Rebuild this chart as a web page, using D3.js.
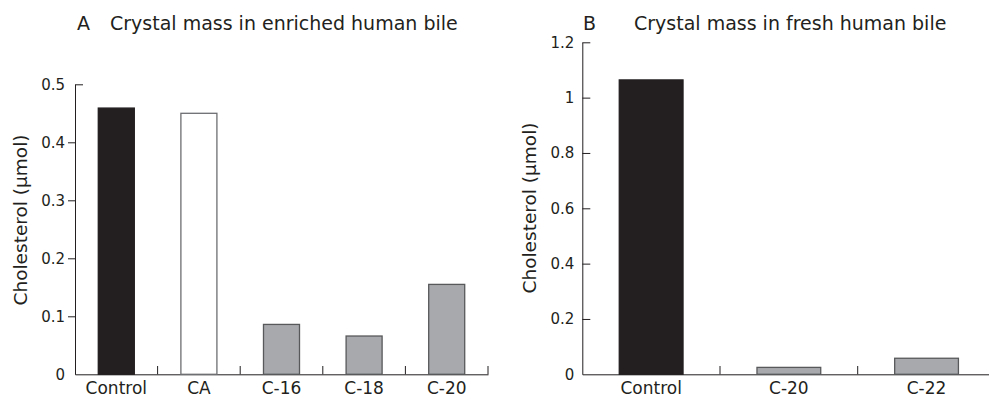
<!DOCTYPE html>
<html>
<head>
<meta charset="utf-8">
<script src="https://cdn.jsdelivr.net/npm/d3@7"></script>
<style>
  body { margin: 0; background: #fff; }
  svg { display: block; font-family: "DejaVu Sans", sans-serif; }
  .axis path, .axis line { stroke: #231f20; stroke-width: 1; }
  .axis text { fill: #231f20; font-family: "DejaVu Sans", sans-serif; }
</style>
</head>
<body>
<div id="chart"></div>
<script>
// panel A - enriched human bile
var catsA = ["Control", "CA", "C-16", "C-18", "C-20"];
var valsA = [0.459, 0.450, 0.086, 0.066, 0.155];
var ticksA = [0, 0.1, 0.2, 0.3, 0.4, 0.5];

// panel B - fresh human bile
var catsB = ["Control", "C-20", "C-22"];
var valsB = [1.064, 0.025, 0.058];
var ticksB = [0, 0.2, 0.4, 0.6, 0.8, 1, 1.2];

var fills = { "Control": "#231f20", "CA": "#ffffff" };
var strokes = { "Control": "#231f20", "CA": "#6d6e71" };

var svg = d3.select("#chart").append("svg")
    .attr("width", 989)
    .attr("height", 399);

function panel(cfg) {
  var x = d3.scaleBand().domain(cfg.cats).range([cfg.x0, cfg.x1]).padding(0);
  var y = d3.scaleLinear().domain([0, cfg.ymax]).range([374.3, cfg.ytop]);
  var g = svg.append("g");

  // y axis
  var yAxis = d3.axisLeft(y).tickValues(cfg.ticks).tickSizeOuter(0)
      .tickFormat(function(d) { return String(d); });
  if (cfg.tickIn) yAxis.tickSizeInner(-8).tickPadding(8);
  else yAxis.tickSizeInner(7).tickPadding(3);
  var ya = g.append("g")
      .attr("class", "axis")
      .attr("transform", "translate(" + cfg.x0 + ",0)")
      .call(yAxis);
  ya.selectAll("text").style("font-size", "15px");
  ya.selectAll(".tick").filter(function(d) { return d === 0; }).select("line").remove();
  ya.selectAll(".tick").filter(function(d) { return d === cfg.ymax; }).select("line").attr("x2", 8);

  // x axis
  var xAxis = d3.axisBottom(x).tickSize(0).tickSizeOuter(0);
  var xa = g.append("g")
      .attr("class", "axis")
      .attr("transform", "translate(0,374.3)")
      .call(xAxis);
  xa.selectAll("text").attr("y", 19.5).attr("dy", 0).style("font-size", "17px");

  // separator ticks between categories
  g.selectAll(".sep")
      .data(cfg.cats)
      .enter().append("line")
      .attr("class", "sep")
      .attr("x1", function(d) { return x(d) + x.bandwidth(); })
      .attr("x2", function(d) { return x(d) + x.bandwidth(); })
      .attr("y1", 374.3)
      .attr("y2", 366)
      .attr("stroke", "#231f20");

  // bars
  var bw = x.bandwidth() * cfg.barFrac;
  g.selectAll(".bar")
      .data(cfg.cats)
      .enter().append("rect")
      .attr("class", "bar")
      .attr("x", function(d) { return x(d) + (x.bandwidth() - bw) / 2; })
      .attr("width", bw)
      .attr("y", function(d, i) { return y(cfg.vals[i]); })
      .attr("height", function(d, i) { return y(0) - y(cfg.vals[i]); })
      .attr("fill", function(d) { return fills[d] || "#a7a9ac"; })
      .attr("stroke", function(d) { return strokes[d] || "#58595b"; })
      .attr("stroke-width", 1.3);

  // y label
  svg.append("text")
      .attr("transform", "translate(" + cfg.labelX + "," + cfg.labelY + ") rotate(-90)")
      .attr("text-anchor", "middle")
      .style("font-size", "18.5px")
      .attr("fill", "#231f20")
      .text("Cholesterol (\u00b5mol)");

  // title
  svg.append("text")
      .attr("x", cfg.letterX).attr("y", 30)
      .style("font-size", "19px").attr("fill", "#231f20")
      .text(cfg.letter);
  svg.append("text")
      .attr("x", cfg.titleX).attr("y", 30)
      .style("font-size", "19px").attr("fill", "#231f20")
      .text(cfg.title);
}

panel({ cats: catsA, vals: valsA, ticks: ticksA, ymax: 0.5, ytop: 84.3,
  x0: 75, x1: 488, barFrac: 0.436, tickIn: false,
  labelX: 27, labelY: 220, letter: "A", letterX: 77, titleX: 110,
  title: "Crystal mass in enriched human bile" });

panel({ cats: catsB, vals: valsB, ticks: ticksB, ymax: 1.2, ytop: 42.3,
  x0: 582.3, x1: 995.4, barFrac: 0.463, tickIn: true,
  labelX: 536, labelY: 208, letter: "B", letterX: 583, titleX: 634,
  title: "Crystal mass in fresh human bile" });
</script>
</body>
</html>
